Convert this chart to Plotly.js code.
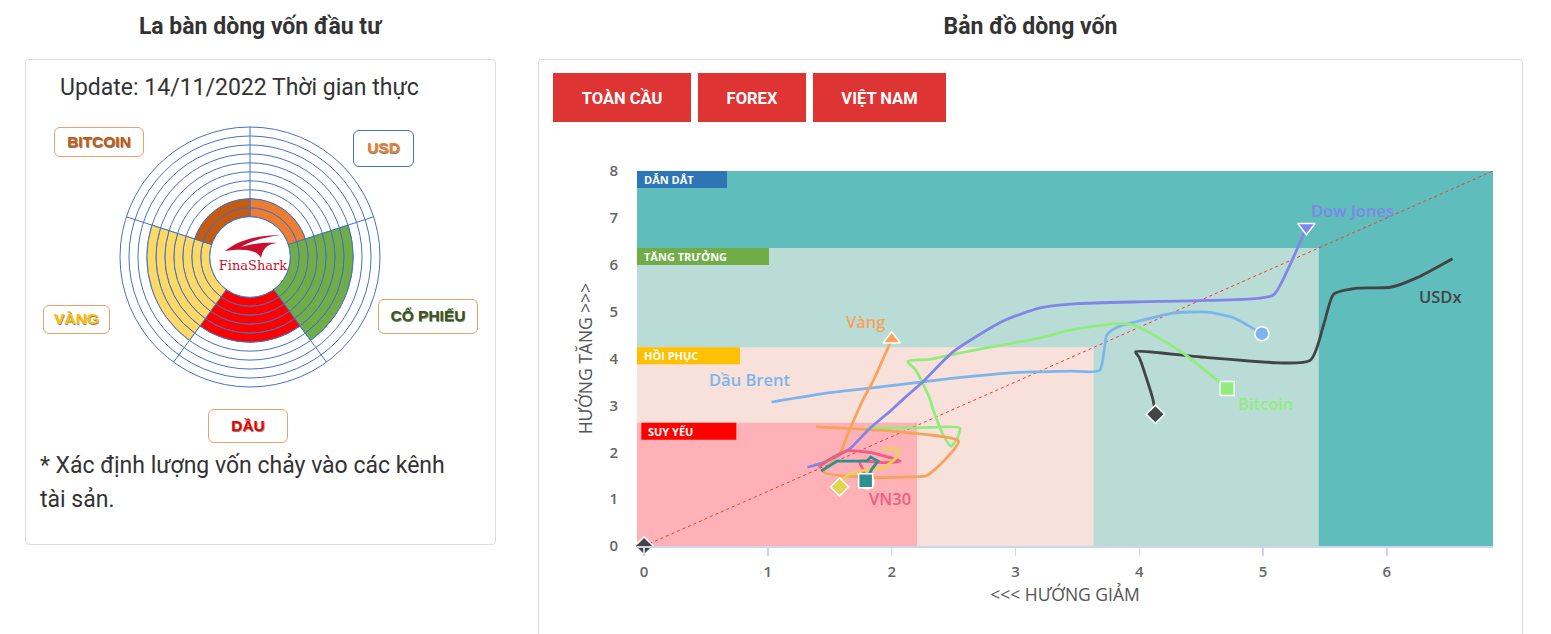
<!DOCTYPE html>
<html>
<head>
<meta charset="utf-8">
<script src="https://cdn.plot.ly/plotly-3.0.1.min.js"></script>
<style>
  html, body { margin:0; padding:0; background:#fff; }
  body { width:1551px; height:634px; position:relative; overflow:hidden; font-family: Roboto, "Open Sans", sans-serif; color:#333; }
  .ttl { position:absolute; top:13px; font-weight:700; font-size:23px; color:#333; text-align:center; }
  .panel { position:absolute; border:1px solid #dcdcdc; border-radius:4px; background:#fff; }
  .btn { position:absolute; top:73px; height:49px; background:#DF3434; color:#fff; font-weight:700; font-size:16.5px; line-height:51px; text-align:center; }
  .tag { position:absolute; border:1.5px solid #E8A26A; border-radius:6px; font-family: "Liberation Sans", Arial, sans-serif; font-weight:700; font-size:15.5px; text-align:center; text-shadow: 0.6px 0.6px 0.8px rgba(0,0,0,0.55); box-sizing:border-box; }
  .txt { position:absolute; font-size:23px; color:#333; }
</style>
</head>
<body>
<div class="ttl" style="left:25px;width:470px;">La bàn dòng vốn đầu tư</div>
<div class="ttl" style="left:538px;width:985px;">Bản đồ dòng vốn</div>

<div class="panel" style="left:25px;top:59px;width:469px;height:484px;"></div>
<div class="panel" style="left:538px;top:59px;width:983px;height:600px;"></div>

<div class="txt" style="left:60px;top:74px;">Update: 14/11/2022 Thời gian thực</div>
<div class="txt" style="left:40px;top:449px;line-height:34px;width:420px;">* Xác định lượng vốn chảy vào các kênh tài sản.</div>

<div id="compass" style="position:absolute;left:110px;top:117px;width:280px;height:280px;"></div>

<div class="tag" style="left:54px;top:127px;width:90px;height:30px;line-height:27px;color:#C55A11;">BITCOIN</div>
<div class="tag" style="left:353px;top:130px;width:61px;height:37px;line-height:34px;color:#ED7D31;border-color:#4472C4;">USD</div>
<div class="tag" style="left:378px;top:299px;width:100px;height:35px;line-height:32px;color:#375623;">CỔ PHIẾU</div>
<div class="tag" style="left:43px;top:305px;width:67px;height:29px;line-height:26px;color:#FFC000;">VÀNG</div>
<div class="tag" style="left:208px;top:409px;width:80px;height:34px;line-height:31px;color:#EE0000;">DẦU</div>

<!-- logo in the hole -->
<svg style="position:absolute;left:215px;top:231px;" width="76" height="32" viewBox="0 0 76 32">
  <path d="M10 20 C 25 8, 45 4, 66 4 C 50 6, 36 10, 26 16 C 40 12, 52 11, 62 12 C 54 13, 48 16, 46 27 C 42 19, 30 17, 10 20 Z" fill="#C8102E"/>
</svg>
<div style="position:absolute;left:203px;top:258px;width:100px;text-align:center;font-family:'DejaVu Serif','Liberation Serif',serif;font-size:13px;color:#C8102E;">FinaShark</div>

<div class="btn" style="left:553px;width:138px;">TOÀN CẦU</div>
<div class="btn" style="left:698px;width:108px;">FOREX</div>
<div class="btn" style="left:813px;width:133px;">VIỆT NAM</div>

<div id="map" style="position:absolute;left:540px;top:140px;width:980px;height:494px;"></div>

<script>
// ---------- Compass data ----------
var compassSectors = ['USD', 'CỔ PHIẾU', 'DẦU', 'VÀNG', 'BITCOIN'];
var compassAngles  = [36, 108, 180, 252, 324];
var compassLevels  = [2, 7, 5, 7, 2];
var compassColors  = ['#ED7D31', '#70AD47', '#FF0000', '#FFD966', '#C55A11'];
var compassMax = 10;

// ---------- Money-flow map data ----------
var dowX   = [1.32,1.45,1.66,1.8,1.89,1.99,2.1,2.25,2.5,2.9,3.2,3.5,4.0,4.55,5.08,5.2,5.35];
var dowY   = [1.68,1.78,2.07,2.45,2.66,2.88,3.15,3.5,4.15,4.8,5.08,5.17,5.21,5.24,5.35,5.9,6.8];

var brentX = [1.03,1.5,2.0,2.5,3.0,3.44,3.68,3.74,3.84,4.0,4.27,4.55,4.76,4.99];
var brentY = [3.07,3.27,3.42,3.58,3.7,3.73,3.75,4.51,4.69,4.8,4.97,4.99,4.87,4.53];

var btcX   = [1.79,2.2,2.55,2.53,2.48,2.42,2.33,2.31,2.2,2.13,2.3,2.63,3.2,3.47,3.93,4.33,4.71];
var btcY   = [2.52,2.52,2.52,2.3,2.13,2.35,2.95,3.13,3.73,3.94,3.98,4.16,4.44,4.62,4.73,4.16,3.36];

var goldX  = [1.39,2.0,2.54,2.42,2.28,2.1,1.83,1.45,1.58,1.64,1.69,1.77,1.85,2.0];
var goldY  = [2.54,2.45,2.24,1.81,1.5,1.47,1.46,1.58,1.96,2.35,2.66,3.13,3.52,4.41];

var vn30X  = [1.41,1.5,1.64,1.83,2.07,1.93,1.74,1.77,1.8];
var vn30Y  = [1.68,1.85,2.03,1.99,1.81,1.78,1.81,1.62,1.37];

var tealX  = [1.43,1.56,1.8,1.83,1.89,1.84,1.81,1.79];
var tealY  = [1.6,1.81,1.81,1.9,1.81,1.64,1.49,1.39];

var yellowX = [1.92,2.05,2.04,1.93,1.74,1.64,1.58];
var yellowY = [2.07,2.06,1.9,1.67,1.6,1.5,1.26];

var usdX   = [6.53,6.24,6.03,5.76,5.57,5.49,5.38,4.55,3.97,4.0,4.11,4.13];
var usdY   = [6.13,5.72,5.52,5.5,5.37,4.73,3.96,4.02,4.14,4.02,3.13,2.81];

var originX = [0];
var originY = [0];

var xRange = [-0.057, 6.857];
var yRange = [0, 8];
var xTicks = [0,1,2,3,4,5,6];
var yTicks = [0,1,2,3,4,5,6,7,8];

// zones
var zoneNames = ['DẪN DẮT', 'TĂNG TRƯỞNG', 'HỒI PHỤC', 'SUY YẾU'];
var zoneXMax  = [6.857, 5.45, 3.63, 2.205];
var zoneYMax  = [8, 6.36, 4.24, 2.63];
var zoneFill  = ['#5FBDBB', '#B9DDD6', '#F8E1DA', '#FFB1B8'];
var zoneTagColor = ['#2E75B6', '#70AD47', '#FFC000', '#FF0000'];
var zoneTagWidth = [90, 132, 103, 95];

// ---------- Compass ----------
(function(){
  var traces = [];
  for (var k = 0; k < compassMax; k++) {
    var th = [], cols = [];
    for (var i = 0; i < compassSectors.length; i++) {
      if (compassLevels[i] > k) { th.push(compassAngles[i]); cols.push(compassColors[i]); }
    }
    if (!th.length) continue;
    traces.push({
      type:'barpolar', theta: th, r: th.map(function(){return 1;}), width: th.map(function(){return 72;}),
      marker:{ color: cols, line:{ color:'#4472C4', width:1 } },
      hoverinfo:'skip', showlegend:false
    });
  }
  Plotly.newPlot('compass', traces, {
    width:280, height:280, margin:{l:10,r:10,t:10,b:10},
    paper_bgcolor:'rgba(0,0,0,0)', showlegend:false, barmode:'stack',
    polar:{
      hole:0.31, bgcolor:'rgba(0,0,0,0)', bargap:0,
      radialaxis:{ range:[0,compassMax], dtick:1, tick0:0, showticklabels:false, ticks:'', showline:false, gridcolor:'#4472C4', gridwidth:1 },
      angularaxis:{ direction:'clockwise', rotation:90, dtick:72, tick0:0, showticklabels:false, ticks:'', gridcolor:'#4472C4', linecolor:'#4472C4', showline:true }
    }
  }, {staticPlot:true});
})();

// ---------- Map ----------
(function(){
  var shapes = [];
  for (var i = 0; i < zoneNames.length; i++) {
    shapes.push({ type:'rect', xref:'x', yref:'y', x0:xRange[0], x1:zoneXMax[i], y0:0, y1:zoneYMax[i],
      fillcolor:zoneFill[i], line:{width:0}, layer:'below' });
  }
  var annotations = [];
  for (var j = 0; j < zoneNames.length; j++) {
    var inset = (j === 3) ? 0.035 : 0;
    shapes.push({ type:'rect', xref:'x', yref:'y', xsizemode:'pixel', ysizemode:'pixel',
      xanchor: xRange[0] + inset, yanchor: zoneYMax[j], x0:0, x1:zoneTagWidth[j], y0:0, y1:-17,
      fillcolor:zoneTagColor[j], line:{width:0}, layer:'below' });
    annotations.push({ xref:'x', yref:'y', x: xRange[0] + inset, y: zoneYMax[j], xanchor:'left', yanchor:'top',
      xshift:5, yshift:1, text: zoneNames[j], showarrow:false,
      font:{ family:'Open Sans, sans-serif', size:11, color:'#fff', weight:700 } });
  }
  var labels = [
    {t:'Dow Jones', x:5.72, y:7.16, c:'#8085E9'},
    {t:'Dầu Brent', x:0.85, y:3.56, c:'#7CB5EC'},
    {t:'Vàng', x:1.79, y:4.8, c:'#F7A35C'},
    {t:'Bitcoin', x:5.02, y:3.05, c:'#90ED7D'},
    {t:'USDx', x:6.43, y:5.33, c:'#434348'},
    {t:'VN30', x:1.99, y:1.02, c:'#F15C80'}
  ];
  labels.forEach(function(l){
    annotations.push({ xref:'x', yref:'y', x:l.x, y:l.y, text:l.t, showarrow:false,
      font:{ family:'Open Sans, sans-serif', size:16.5, color:l.c, weight:600 } });
  });

  function line(x, y, c, shape) {
    return { type:'scatter', mode:'lines', x:x, y:y, line:{ color:c, width:2.8, shape: shape || 'spline', smoothing:0.6 }, hoverinfo:'skip', showlegend:false };
  }
  function endMark(x, y, c, sym, sz) {
    return { type:'scatter', mode:'markers', x:[x[x.length-1]], y:[y[y.length-1]], cliponaxis:false,
      marker:{ color:c, symbol:sym, size:sz, line:{ color:'#fff', width:1.5 } }, hoverinfo:'skip', showlegend:false };
  }
  var traces = [
    { type:'scatter', mode:'lines', x:[0, xRange[1]], y:[0, yRange[1]], line:{ color:'#FF3333', width:1, dash:'dot' }, hoverinfo:'skip', showlegend:false },
    line(brentX, brentY, '#7CB5EC'),
    line(usdX, usdY, '#434348'),
    line(btcX, btcY, '#90ED7D'),
    line(goldX, goldY, '#F7A35C'),
    line(dowX, dowY, '#8085E9'),
    line(vn30X, vn30Y, '#F15C80'),
    line(yellowX, yellowY, '#E4D354'),
    line(tealX, tealY, '#2B908F', 'linear'),
    endMark(brentX, brentY, '#7CB5EC', 'circle', 14),
    endMark(usdX, usdY, '#434348', 'diamond', 14),
    endMark(btcX, btcY, '#90ED7D', 'square', 14),
    endMark(goldX, goldY, '#F7A35C', 'triangle-up', 15),
    endMark(dowX, dowY, '#8085E9', 'triangle-down', 15),
    endMark(vn30X, vn30Y, '#F15C80', 'circle', 14),
    endMark(yellowX, yellowY, '#E4D354', 'diamond', 14),
    endMark(tealX, tealY, '#2B908F', 'square', 14),
    endMark(originX, originY, '#434348', 'diamond', 14)
  ];
  Plotly.newPlot('map', traces, {
    width:980, height:494, margin:{ l:97, r:27, t:31, b:88 },
    paper_bgcolor:'rgba(0,0,0,0)', plot_bgcolor:'rgba(0,0,0,0)', showlegend:false,
    font:{ family:'Open Sans, sans-serif' },
    xaxis:{ range:xRange, tickvals:xTicks, showgrid:false, zeroline:false, showline:true, linecolor:'#ccd6eb', linewidth:1.5,
      ticks:'outside', ticklen:8, tickcolor:'#ccd6eb', tickwidth:1.5, ticklabelstandoff:3,
      tickfont:{ size:15, color:'#666', weight:600 },
      title:{ text:'<<< HƯỚNG GIẢM', font:{ size:17.5, color:'#555' }, standoff:9 } },
    yaxis:{ range:yRange, tickvals:yTicks, showgrid:false, zeroline:false, showline:false, ticks:'', ticklabelstandoff:18,
      tickfont:{ size:15, color:'#666', weight:600 },
      title:{ text:'HƯỚNG TĂNG >>>', font:{ size:17.5, color:'#555' }, standoff:12 } },
    shapes: shapes, annotations: annotations
  }, {staticPlot:true});
})();
</script>
</body>
</html>
